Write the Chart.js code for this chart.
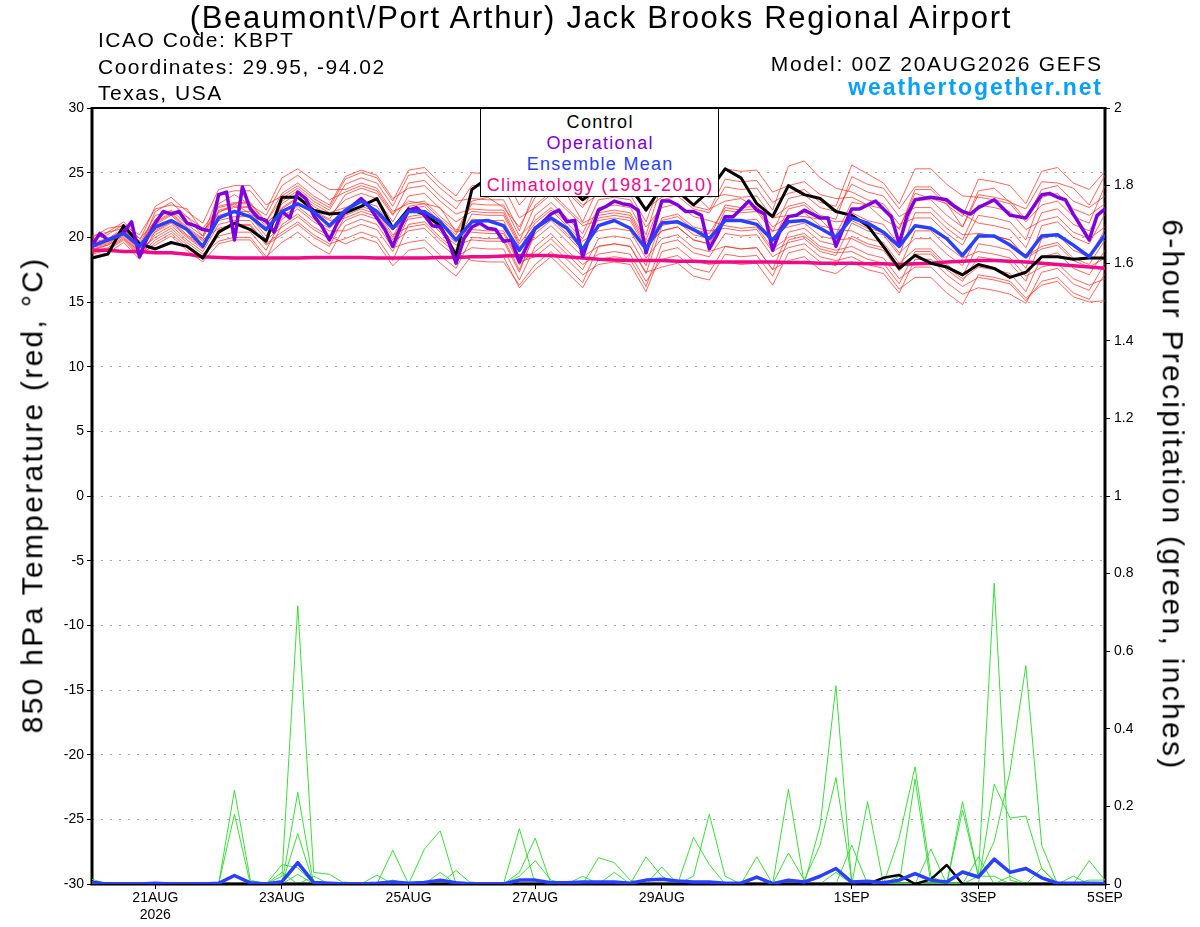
<!DOCTYPE html>
<html>
<head>
<meta charset="utf-8">
<title>KBPT GEFS</title>
<script src="https://cdn.jsdelivr.net/npm/chart.js@4.4.0/dist/chart.umd.min.js"></script>
<style>
  body { margin: 0; background: #fff; font-family: "Liberation Sans", Arial, sans-serif; }
  #quadro { position: relative; width: 1200px; height: 927px; overflow: hidden; }
  #grafico { position: absolute; left: 0; top: 0; }
  .txt { position: absolute; white-space: nowrap; line-height: 1; color: #000; }
  #titulo { left: 0; width: 1200px; box-sizing: border-box; padding-left: 1.7px; text-align: center; top: 2.1px; font-size: 31px; letter-spacing: 1.7px; }
  .info { left: 98px; font-size: 21px; letter-spacing: 1.5px; }
  .infoDir { right: 97.3px; font-size: 21px; letter-spacing: 1.7px; }
  #site { right: 97.1px; top: 75.5px; font-size: 23px; font-weight: bold; color: #0aa0f8; letter-spacing: 1.9px; }
  #legenda { position: absolute; left: 480px; top: 108px; width: 239px; height: 89px; box-sizing: border-box;
             border: 1.5px solid #000; background: #fff; }
  #legenda div { position: absolute; left: 0; width: 100%; box-sizing: border-box; padding-left: 1.3px; text-align: center;
                 font-size: 18px; line-height: 1; letter-spacing: 1.3px; white-space: nowrap; }
  .eixo { font-size: 30px; letter-spacing: 2.3px; transform-origin: center center; }
</style>
</head>
<body>
<div id="quadro">
  <canvas id="grafico" width="1200" height="927"></canvas>
  <div class="txt" id="titulo">(Beaumont\/Port Arthur) Jack Brooks Regional Airport</div>
  <div class="txt info" style="top:28.9px">ICAO Code: KBPT</div>
  <div class="txt info" style="top:56px">Coordinates: 29.95, -94.02</div>
  <div class="txt info" style="top:81.5px">Texas, USA</div>
  <div class="txt infoDir" style="top:52.5px">Model: 00Z 20AUG2026 GEFS</div>
  <div class="txt" id="site">weathertogether.net</div>
  <div id="legenda">
    <div style="top:3.5px;color:#000">Control</div>
    <div style="top:24.5px;color:#7f00dc">Operational</div>
    <div style="top:45.5px;color:#2a40ff">Ensemble Mean</div>
    <div style="top:67px;color:#ee0a88">Climatology (1981-2010)</div>
  </div>
  <div class="txt eixo" id="tituloEsq">850 hPa Temperature (red, °C)</div>
  <div class="txt eixo" id="tituloDir">6-hour Precipitation (green, inches)</div>
</div>

<script>
// eixo x: horas de previsao a partir de 00Z 20AUG2026
const tickHoras = [24, 72, 120, 168, 216, 288, 336, 384]
const tickDatas = [['21AUG', '2026'], '23AUG', '25AUG', '27AUG', '29AUG', '1SEP', '3SEP', '5SEP']
const tickTemp = [-30, -25, -20, -15, -10, -5, 0, 5, 10, 15, 20, 25, 30]
const tickChuva = ['0', '0.2', '0.4', '0.6', '0.8', '1', '1.2', '1.4', '1.6', '1.8', '2']

// 850 hPa temperatura (C), 6 em 6 horas
const controle = [
  18.4, 18.7, 20.9, 19.5, 19.1, 19.6, 19.3, 18.4, 20.4, 21.1, 20.6, 19.7, 23.1, 23.1, 22.1, 21.8, 21.9, 22.4, 23.0, 20.7, 22.2,
  21.8, 20.9, 18.6, 23.7, 24.6, 24.9, 24.3, 24.0, 24.4, 24.0, 22.9, 23.8, 24.2, 23.9, 22.1, 23.9, 23.6, 22.5, 23.6, 25.3, 24.6,
  22.6, 21.6, 24.0, 23.3, 23.0, 22.0, 21.7, 20.9, 19.3, 17.6, 18.6, 18.0, 17.7, 17.1, 17.9, 17.6, 16.9, 17.3, 18.5, 18.5, 18.3, 18.4, 18.4
]
const mediaEns = [
  19.3, 19.8, 20.3, 19.3, 20.8, 21.3, 20.6, 19.3, 21.5, 22.0, 21.6, 20.6, 22.0, 22.6, 22.0, 20.9, 22.1, 22.8, 22.0, 20.7, 22.0,
  22.0, 21.2, 19.8, 21.2, 21.3, 20.9, 19.0, 20.7, 21.5, 20.7, 19.1, 20.9, 21.3, 20.7, 19.1, 21.1, 21.2, 20.6, 19.9, 21.3, 21.3,
  21.0, 19.8, 21.2, 21.3, 20.7, 20.0, 21.5, 21.1, 20.4, 19.3, 20.9, 20.7, 19.9, 18.6, 20.1, 20.1, 19.4, 18.5, 20.1, 20.2, 19.4, 18.5, 20.2
]
const climatologia = [
  19.0, 19.0, 18.9, 18.9, 18.8, 18.8, 18.7, 18.5, 18.45,
  18.4, 18.4, 18.4, 18.4, 18.4, 18.45, 18.45, 18.45, 18.45, 18.4, 18.4, 18.4,
  18.4, 18.45, 18.45, 18.5, 18.5, 18.55,
  18.6, 18.6, 18.6, 18.5, 18.4,
  18.3, 18.25, 18.2, 18.2, 18.2, 18.15, 18.15, 18.1, 18.1, 18.1,
  18.1, 18.1, 18.05, 18.05, 18.0, 18.0, 18.0, 17.95, 17.95,
  17.9, 17.95, 18.0, 18.1, 18.15, 18.2,
  18.2, 18.15, 18.1, 18.0, 17.9, 17.8, 17.7, 17.6
]
// operacional vem de 3 em 3 horas
const operacional = [
  19.4, 20.3, 19.8, 20.0, 20.4, 21.2, 18.5, 20.0, 21.1, 22.0, 21.8, 22.0, 21.1, 20.9, 20.6, 20.5, 23.3, 23.5, 19.8, 23.9, 22.2,
  21.5, 21.3, 20.4, 22.0, 21.5, 23.5, 23.0, 21.7, 20.9, 19.8, 21.1, 22.0, 22.5, 23.0, 22.4, 21.5, 20.6, 19.3, 20.8, 22.1, 22.3,
  21.7, 20.9, 20.8, 19.8, 18.0, 19.9, 20.8, 21.1, 20.7, 20.6, 19.7, 19.8, 18.1, 19.4, 20.7, 21.2, 21.8, 22.1, 21.2, 21.3,
  18.5, 20.3, 22.1, 22.4, 22.8, 22.6, 22.5, 22.1, 18.8, 20.7, 22.8, 22.8, 22.5, 22.0, 22.0, 21.7, 19.1, 20.2, 21.6, 21.6, 22.2, 22.8,
  22.1, 21.8, 19.0, 20.6, 21.6, 21.7, 22.1, 21.8, 21.5, 21.5, 19.3, 20.8, 22.2, 22.2, 22.5, 22.8, 22.2, 21.6, 19.5, 21.7,
  22.9, 23.0, 23.1, 23.0, 22.9, 22.4, 22.0, 21.8, 22.3, 22.6, 22.9, 22.3, 21.7, 21.6, 21.5, 22.4, 23.3, 23.4, 23.1, 22.9,
  21.8, 20.8, 19.8, 21.7, 22.2
]

// membros do ensemble (linhas vermelhas)
const mem01 = [19.7,20.4,20.7,19.5, 21.7,22.0,21.6,20.1, 22.6,23.3,22.5,21.7, 24.0,24.8,23.8,22.9, 23.5,24.0,23.6,21.8, 22.8,22.6,22.3,20.4, 22.8,23.1,22.3,20.8, 23.1,23.7,23.3,21.2, 23.9,24.5,23.5,22.3, 23.7,23.6,23.4,22.2, 22.8,23.0,22.3,21.5, 21.7,21.6,21.4,20.2, 22.7,22.5,21.4,20.7, 23.4,23.0,22.6,20.8, 23.6,23.8,22.7,22.2, 24.3,24.2,23.8,22.5, 24.8]
const mem02 = [19.0,19.4,20.1,18.8, 20.2,20.9,19.8,18.9, 21.0,21.3,21.3,19.8, 20.8,21.6,20.6,19.9, 21.3,21.8,21.4,19.6, 20.5,20.7,19.5,18.5, 19.2,19.1,19.1,16.7, 19.3,20.3,19.0,17.9, 18.7,18.9,18.7,16.6, 18.3,18.6,17.6,17.3, 19.3,19.1,19.2,17.5, 18.2,18.5,17.5,17.2, 18.1,17.5,17.2,15.7, 18.3,18.3,17.1,16.2, 16.9,16.7,16.4,15.1, 16.6,16.9,15.7,15.2, 17.2]
const mem03 = [19.5,19.8,20.6,19.3, 20.6,21.3,20.2,19.3, 22.1,22.4,22.4,21.0, 22.3,23.1,22.1,21.4, 23.3,23.8,23.4,21.7, 24.2,24.4,23.2,22.2, 24.0,23.9,23.9,21.5, 22.3,23.3,22.1,20.9, 21.3,21.5,21.3,19.2, 20.5,20.8,19.8,19.5, 22.1,21.9,22.0,20.4, 23.0,23.3,22.3,22.0, 24.1,23.5,23.2,21.6, 22.3,22.3,21.1,20.2, 20.3,20.1,19.8,18.5, 19.3,19.6,18.4,17.9, 19.8]
const mem04 = [18.8,19.1,19.9,18.6, 19.8,20.5,19.4,18.5, 20.1,20.4,20.4,19.0, 21.4,22.2,21.2,20.5, 20.5,21.0,20.6,18.9, 21.6,21.8,20.6,19.6, 21.8,21.7,21.7,19.3, 19.9,20.9,19.7,18.5, 19.3,19.5,19.3,17.2, 20.9,21.2,20.2,19.9, 22.5,22.3,22.4,20.8, 21.6,21.9,20.9,20.6, 20.5,19.9,19.6,18.0, 19.1,19.1,17.9,17.0, 19.5,19.3,19.0,17.6, 20.9,21.2,20.0,19.5, 21.8]
const mem05 = [20.0,20.7,20.9,20.2, 22.2,22.5,22.2,20.5, 21.9,22.6,21.8,21.2, 23.0,23.8,22.8,22.1, 24.1,24.6,24.2,22.4, 24.8,25.0,23.8,22.8, 23.0,22.9,22.9,20.5, 23.7,24.7,23.5,22.3, 24.3,24.5,24.3,22.2, 23.1,23.4,22.4,22.1, 24.5,24.3,24.4,22.7, 23.4,23.7,22.7,22.4, 25.6,24.9,24.2,22.6, 25.3,25.3,24.1,23.2, 23.1,22.9,22.6,21.2, 22.5,22.8,21.6,21.1, 24.0]
const mem06 = [19.5,19.8,20.6,19.3, 21.4,22.1,21.0,20.1, 23.3,23.6,23.6,22.1, 24.6,25.3,24.4,23.7, 23.7,24.2,23.8,22.0, 22.6,22.8,21.6,20.6, 20.4,20.3,20.3,17.9, 18.9,19.9,18.7,17.5, 19.9,20.1,19.9,17.8, 21.5,21.8,20.8,20.5, 20.7,20.5,20.6,18.9, 19.6,19.9,18.9,18.6, 21.1,20.5,20.2,18.6, 21.9,21.9,20.7,19.8, 22.5,22.3,22.0,20.6, 21.3,21.6,20.4,19.9, 20.8]
const mem07 = [19.1,19.4,20.2,18.9, 21.1,21.8,20.7,19.8, 20.7,21.0,21.0,19.5, 20.4,21.2,20.2,19.5, 19.9,20.4,20.0,18.2, 21.0,21.2,20.0,19.0, 21.4,21.3,21.3,18.9, 21.7,22.7,21.5,20.3, 22.9,23.1,22.9,20.8, 22.3,22.6,21.6,21.3, 20.9,20.7,20.8,19.1, 20.0,20.3,19.3,19.0, 19.3,18.7,18.4,16.8, 17.7,17.7,16.5,15.6, 16.1,15.9,15.6,14.9, 17.3,17.6,16.4,15.9, 18.0]
const mem08 = [19.4,19.7,20.5,19.2, 20.4,21.1,20.0,19.1, 21.7,22.0,22.0,20.5, 22.8,23.6,22.6,21.9, 22.3,22.8,22.4,20.6, 21.4,21.6,20.4,19.4, 19.8,19.7,19.7,17.3, 20.5,21.5,20.3,19.1, 21.9,22.1,21.9,19.8, 22.9,23.2,22.2,21.9, 23.9,23.7,23.8,22.1, 25.5,25.9,24.6,23.8, 23.5,22.9,22.6,21.0, 21.5,21.5,20.3,19.4, 21.7,21.5,21.2,19.8, 23.1,23.4,22.2,21.7, 22.6]
const mem09 = [18.7,19.0,19.8,18.5, 19.6,20.3,19.2,18.3, 20.6,20.9,20.9,19.4, 20.2,21.0,20.0,19.3, 21.7,22.2,21.8,20.0, 22.4,22.6,21.4,20.4, 20.6,20.5,20.5,18.1, 18.5,19.5,18.3,17.1, 17.9,18.1,17.9,15.8, 18.9,19.2,18.2,17.9, 18.1,17.9,18.0,16.3, 18.8,19.1,18.1,17.8, 20.1,19.5,19.2,17.6, 20.5,20.5,19.3,18.4, 18.9,18.7,18.4,17.0, 17.7,18.0,16.8,16.3, 16.8]
const mem10 = [19.6,19.9,20.7,19.4, 21.0,21.7,20.6,19.7, 21.3,21.6,21.6,20.1, 22.6,23.4,22.4,21.7, 22.9,23.4,23.0,21.2, 23.2,23.4,22.2,21.2, 22.0,21.9,21.9,19.5, 21.1,22.1,20.9,19.7, 20.5,20.7,20.5,18.4, 19.9,20.2,19.2,18.9, 19.3,19.1,19.2,17.5, 20.4,20.7,19.7,19.4, 21.9,21.3,21.0,19.4, 22.9,22.9,21.7,20.8, 23.3,23.1,22.8,21.4, 23.7,24.0,22.8,22.3, 23.2]
const mem11 = [19.2,19.5,20.3,19.0, 20.0,20.7,19.6,18.7, 19.7,20.0,20.0,18.5, 19.6,20.4,19.4,18.7, 20.9,21.4,21.0,19.2, 19.6,19.8,18.6,17.6, 20.0,19.9,19.9,17.5, 20.3,21.3,20.1,18.9, 21.5,21.7,21.5,19.4, 20.5,20.8,19.8,19.5, 21.5,21.3,21.4,19.7, 22.2,22.5,21.5,21.2, 21.3,20.7,20.4,18.8, 19.9,19.9,18.7,17.8, 20.3,20.1,19.8,18.4, 19.1,19.4,18.2,17.7, 18.4]
const mem12 = [19.9,20.2,21.0,19.7, 22.4,23.1,22.0,21.1, 23.7,24.0,24.0,22.5, 23.2,24.0,23.0,22.3, 24.5,25.0,24.6,22.8, 25.2,25.4,24.2,23.2, 25.0,24.9,24.9,22.5, 23.9,24.9,23.7,22.5, 23.3,23.5,23.3,21.2, 24.5,24.8,23.8,23.5, 25.3,25.1,25.2,23.5, 24.0,24.3,23.3,23.0, 23.1,22.5,22.2,20.6, 23.7,23.7,22.5,21.6, 24.5,24.3,24.0,22.6, 25.1,25.4,24.2,23.7, 25.1]
const mem13 = [18.9,19.2,20.0,18.7, 19.4,20.1,19.0,18.1, 19.5,19.8,19.8,18.3, 21.0,21.8,20.8,20.1, 19.5,20.0,19.6,17.8, 19.0,19.2,18.0,17.0, 18.6,18.5,18.5,16.1, 17.5,18.5,17.3,16.1, 18.3,18.5,18.3,16.2, 19.5,19.8,18.8,18.5, 20.3,20.1,20.2,18.5, 19.2,19.5,18.5,18.2, 18.5,17.9,17.6,16.0, 16.9,16.9,15.7,14.8, 17.1,16.9,16.6,15.3, 16.3,16.6,15.4,15.0, 15.1]
const mem14 = [20.1,20.4,21.2,19.9, 21.2,21.9,20.8,19.9, 22.4,22.7,22.7,21.2, 23.4,24.2,23.2,22.5, 24.7,25.2,24.8,23.0, 23.8,24.0,22.8,21.8, 22.2,22.1,22.1,19.7, 22.5,23.5,22.3,21.1, 21.7,21.9,21.7,19.6, 21.3,21.6,20.6,20.3, 22.3,22.1,22.2,20.5, 20.8,21.1,20.1,19.8, 19.9,19.3,19.0,17.4, 18.7,18.7,17.5,16.6, 18.5,18.3,18.0,16.6, 19.9,20.2,19.0,18.5, 20.6]
const mem15 = [18.5,18.8,19.6,18.3, 20.5,21.2,20.1,19.2, 22.0,22.3,22.3,20.8, 21.6,22.4,21.4,20.7, 21.9,22.4,22.0,20.2, 20.8,21.0,19.8,18.8, 18.2,18.1,18.1,16.3, 17.9,18.9,17.7,16.5, 19.3,19.5,19.3,17.3, 17.7,18.0,17.0,16.7, 18.7,18.5,18.6,17.0, 19.8,20.1,19.1,18.8, 18.9,18.3,18.0,16.4, 18.9,18.9,17.7,16.8, 17.7,17.5,17.2,15.8, 18.5,18.8,17.6,17.1, 19.0]
const mem16 = [19.3,19.6,20.4,19.1, 22.0,22.7,21.6,20.7, 22.3,22.6,22.6,21.1, 22.2,23.0,22.0,21.3, 21.5,22.0,21.6,19.8, 22.2,22.4,21.2,20.2, 22.6,22.5,22.5,20.1, 21.3,22.3,21.1,19.9, 22.3,22.5,22.3,20.2, 24.1,24.4,23.4,23.1, 23.3,23.1,23.2,21.5, 22.4,22.7,21.7,21.4, 24.7,24.1,23.8,22.2, 23.9,23.9,22.7,21.8, 21.1,20.9,20.6,19.2, 21.9,22.2,21.0,20.5, 22.4]

// precipitacao 6h (polegadas)
const chuvaMedia = [
  0.003,0,0,0,0.002,0,0,0,0.002,0.022,
  0.003,0,0.006,0.055,0.004,0.002,0,0,0.002,0.005,
  0.002,0.004,0.01,0.003,0,0,0,0.01,0.01,0.003,
  0.003,0.005,0.005,0.005,0.002,0.01,0.012,0.008,0.005,0.005,
  0.002,0.002,0.018,0.001,0.01,0.005,0.02,0.04,0.005,0.007,
  0.003,0.01,0.027,0.01,0.005,0.031,0.018,0.064,0.03,0.04,
  0.016,0.002,0.002,0.002,0.001
]
const chuvaControle = [
  0.005,0,0,0,0,0,0,0,0,0,
  0,0,0,0,0,0,0,0,0,0,
  0,0,0,0,0,0,0,0,0,0,
  0,0,0,0,0,0,0,0,0,0,
  0,0,0,0,0,0,0,0,0,0,
  0.016,0.023,0,0.012,0.049,0,0,0,0,0,
  0,0,0,0,0
]
const chuva01 = [0,0,0,0,0,0,0,0,0,0.242, 0.01,0,0,0.236,0,0,0,0,0,0, 0,0,0,0,0,0,0,0.143,0,0, 0,0,0,0,0,0,0,0,0.02,0.18, 0.02,0,0,0,0,0,0,0,0,0, 0,0,0,0,0,0.212,0.02,0.775,0.01,0, 0,0,0,0,0]
const chuva02 = [0,0,0,0,0,0,0,0,0,0.18, 0,0,0,0.13,0,0,0,0,0,0, 0,0,0,0,0,0,0,0.02,0.06,0.01, 0,0,0,0,0,0,0,0,0.12,0.05, 0,0,0,0,0,0,0,0,0,0, 0,0,0,0.09,0,0,0,0.257,0.17,0.175, 0.04,0,0,0,0]
const chuva03 = [0.012,0,0,0,0,0,0,0,0,0.02, 0,0,0.02,0.717,0.03,0.025,0,0,0,0, 0,0,0,0,0,0,0,0,0,0, 0,0,0,0,0,0,0,0,0,0, 0,0,0,0,0.08,0.01,0.1,0.274,0.01,0, 0,0,0,0,0,0,0,0,0,0, 0,0,0,0.06,0.01]
const chuva04 = [0,0,0,0,0,0,0,0,0,0, 0,0,0.05,0.042,0,0,0,0,0,0.01, 0,0,0,0,0,0,0,0,0,0, 0,0,0.068,0.055,0.01,0,0,0,0,0, 0,0,0,0,0,0,0,0,0,0, 0,0,0,0,0,0.19,0.02,0.02,0,0, 0,0,0,0,0]
const chuva05 = [0,0,0,0,0,0,0,0,0,0, 0,0,0.03,0,0.02,0,0,0,0,0, 0,0,0,0,0,0,0,0,0,0, 0,0.02,0,0,0,0,0,0,0,0, 0,0,0,0,0.244,0,0.15,0.511,0,0, 0,0,0,0,0,0,0,0,0.02,0, 0,0,0,0,0]
const chuva06 = [0,0,0,0,0,0,0,0,0,0, 0,0,0,0.025,0,0,0,0,0,0, 0,0,0,0.035,0,0,0,0,0,0, 0,0,0,0,0,0,0,0,0,0, 0,0,0.07,0,0,0,0,0,0.1,0, 0,0,0,0,0,0,0.02,0.11,0.29,0.563, 0.1,0,0,0,0]
const chuva07 = [0,0,0,0,0,0,0,0,0,0, 0,0,0,0,0,0,0,0,0.023,0, 0,0.09,0.137,0,0,0,0,0,0,0, 0,0,0,0,0,0,0,0,0,0, 0,0,0,0,0,0,0,0,0,0.212, 0,0,0,0,0,0,0,0,0,0, 0.04,0,0,0,0]
const chuva08 = [0,0,0,0,0,0,0,0,0,0, 0,0,0,0,0,0,0,0,0,0.087, 0,0,0,0,0,0,0,0.03,0.118,0, 0,0,0,0,0,0,0,0,0,0, 0,0,0,0,0,0,0,0,0,0, 0,0.02,0,0,0,0,0.07,0,0,0, 0,0,0.02,0,0]
const chuva09 = [0,0,0,0,0,0,0,0,0,0, 0,0,0,0,0,0,0,0,0,0, 0,0,0.03,0,0.005,0,0,0,0,0, 0,0,0,0.03,0,0,0.044,0,0,0, 0,0,0,0,0,0,0,0,0,0, 0,0.12,0.302,0.02,0,0,0,0,0,0, 0,0,0,0,0]
const chuva10 = [0,0,0,0,0,0,0,0,0,0, 0,0,0,0,0,0,0.005,0,0,0, 0,0,0,0,0,0,0,0,0,0, 0,0,0,0,0,0.07,0.02,0,0,0, 0,0,0.02,0,0,0,0,0.03,0,0, 0,0,0.27,0,0,0,0,0,0,0, 0,0,0,0.01,0.01]

const membrosTemp = [mem01, mem02, mem03, mem04, mem05, mem06, mem07, mem08, mem09, mem10, mem11, mem12, mem13, mem14, mem15, mem16]
const membrosChuva = [chuva01, chuva02, chuva03, chuva04, chuva05, chuva06, chuva07, chuva08, chuva09, chuva10]

function serie(valores, passo) {
    return valores.map((v, i) => ({ x: i * passo, y: v }))
}

function linha(valores, passo, cor, largura, eixo, ordem) {
    return {
        data: serie(valores, passo),
        borderColor: cor,
        borderWidth: largura,
        yAxisID: eixo,
        order: ordem,
        pointRadius: 0,
        tension: 0,
        fill: false,
        borderJoinStyle: 'round'
    }
}

// posiciona os titulos girados dos eixos
const tEsq = document.getElementById('tituloEsq')
tEsq.style.left = (32 - tEsq.offsetWidth / 2) + 'px'
tEsq.style.top = (495 - 15) + 'px'
tEsq.style.transform = 'rotate(-90deg)'
const tDir = document.getElementById('tituloDir')
tDir.style.left = (1172 - tDir.offsetWidth / 2) + 'px'
tDir.style.top = (495 - 15) + 'px'
tDir.style.transform = 'rotate(90deg)'

Chart.defaults.font.family = '"Liberation Sans", Arial, sans-serif'
Chart.defaults.color = '#000'

const datasets = []
membrosTemp.forEach(m => datasets.push(linha(m, 6, 'rgba(255,45,35,0.72)', 1, 'y', 10)))
membrosChuva.forEach(m => datasets.push(linha(m, 6, 'rgba(40,215,40,0.9)', 1, 'y2', 9)))
datasets.push(linha(chuvaControle, 6, '#000000', 2.5, 'y2', 8))
datasets.push(linha(chuvaMedia, 6, '#2a40ff', 3.5, 'y2', 7))
datasets.push(linha(climatologia, 6, '#ee0a88', 3.5, 'y', 6))
datasets.push(linha(controle, 6, '#000000', 3, 'y', 5))
datasets.push(linha(operacional, 3, '#7f00dc', 3.5, 'y', 4))
datasets.push(linha(mediaEns, 6, '#2a40ff', 3.5, 'y', 3))

// moldura do grafico
const moldura = {
    id: 'moldura',
    beforeDatasetsDraw(chart) {
        const { ctx, chartArea: a } = chart
        ctx.save()
        ctx.strokeStyle = '#000'
        ctx.lineWidth = 2
        ctx.beginPath()
        ctx.moveTo(a.left, a.top)
        ctx.lineTo(a.right, a.top)
        ctx.stroke()
        ctx.lineWidth = 3
        ctx.beginPath()
        ctx.moveTo(a.left, a.top - 1)
        ctx.lineTo(a.left, a.bottom)
        ctx.lineTo(a.right, a.bottom)
        ctx.lineTo(a.right, a.top - 1)
        ctx.stroke()
        ctx.restore()
    }
}

new Chart(document.getElementById('grafico'), {
    type: 'line',
    data: { datasets: datasets },
    plugins: [moldura],
    options: {
        responsive: false,
        devicePixelRatio: 1,
        animation: false,
        layout: { padding: { top: 108, left: 0, right: 0, bottom: 0 } },
        plugins: {
            legend: { display: false },
            title: { display: false },
            tooltip: { enabled: false }
        },
        scales: {
            x: {
                type: 'linear',
                min: 0,
                max: 384,
                afterBuildTicks: (scale) => { scale.ticks = tickHoras.map(v => ({ value: v })) },
                afterFit: (scale) => { scale.height = 43 },
                ticks: {
                    autoSkip: false,
                    maxRotation: 0,
                    padding: 1,
                    font: { size: 14 },
                    callback: (v) => tickDatas[tickHoras.indexOf(v)]
                },
                grid: { drawOnChartArea: false, tickLength: 5, tickColor: '#000', tickWidth: 1 },
                border: { display: false }
            },
            y: {
                position: 'left',
                min: -30,
                max: 30,
                afterBuildTicks: (scale) => { scale.ticks = tickTemp.map(v => ({ value: v })) },
                afterFit: (scale) => { scale.width = 92 },
                ticks: { padding: 3, font: { size: 14 } },
                grid: { color: '#a8a8a8', lineWidth: 1, tickLength: 5, tickColor: '#000', tickBorderDash: [] },
                border: { display: false, dash: [2, 7] }
            },
            y2: {
                position: 'right',
                min: 0,
                max: 2,
                afterBuildTicks: (scale) => { scale.ticks = tickChuva.map(v => ({ value: Number(v) })) },
                afterFit: (scale) => { scale.width = 95 },
                ticks: {
                    padding: 4,
                    font: { size: 14 },
                    callback: (v, i) => tickChuva[i]
                },
                grid: { drawOnChartArea: false, tickLength: 5, tickColor: '#000' },
                border: { display: false }
            }
        }
    }
})
</script>
</body>
</html>
